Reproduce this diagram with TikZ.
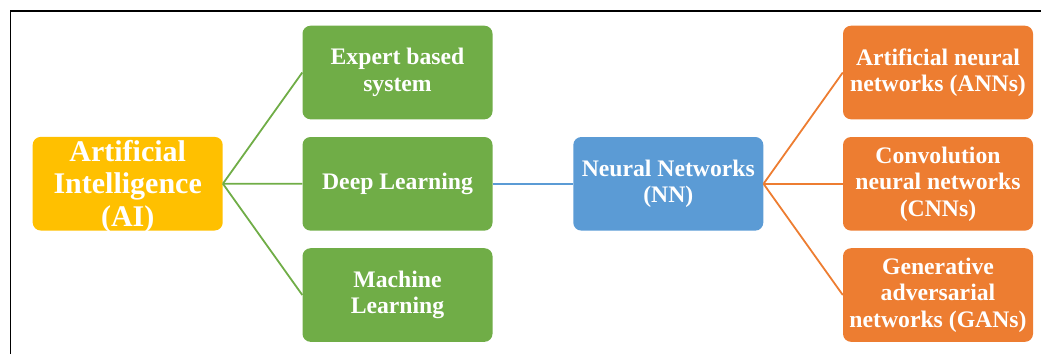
\documentclass[tikz,border=0pt]{standalone}
\usepackage{fontspec}
\setmainfont{Liberation Serif}
\definecolor{aiyellow}{HTML}{FFC000}
\definecolor{mlgreen}{HTML}{70AD47}
\definecolor{nnblue}{HTML}{5B9BD5}
\definecolor{nnorange}{HTML}{ED7D31}
\begin{document}
\begin{tikzpicture}[x=1pt,y=-1pt,
  box/.style={rounded corners=8pt, minimum width=190pt, minimum height=93.6pt,
    inner sep=2pt, text=white, align=center, font=\bfseries\fontsize{23.7}{26.5}\selectfont},
  greenbox/.style={box, fill=mlgreen},
  orangebox/.style={box, fill=nnorange},
  link/.style={line width=1.8pt}]
\useasboundingbox (0,0) rectangle (1041,354);
% outer frame (left and top edges)
\draw[line width=1.3pt] (10.5,354) -- (10.5,11) -- (1041,11);

% root box: its three-line title is a centred label, set a little low
\node[box, fill=aiyellow,
  label={[text=white, align=center, yshift=-2.5pt,
          font=\bfseries\fontsize{30}{32.5}\selectfont]center:Artificial\\Intelligence\\(AI)}]
  (ai) at (127.7,183.7) {};

\node[greenbox] (exp) at (397.5,72.5) {Expert based\\system};
\node[greenbox] (dl)  at (397.5,183.8) {Deep Learning};
\node[greenbox] (ml)  at (397.5,295) {Machine\\Learning};

\node[box, fill=nnblue] (nn) at (668.3,183.8) {Neural Networks\\(NN)};

\node[orangebox] (ann) at (938,72.5) {Artificial neural\\networks (ANNs)};
\node[orangebox] (cnn) at (938,183.8) {Convolution\\neural networks\\(CNNs)};
\node[orangebox] (gan) at (938,295) {Generative\\adversarial\\networks (GANs)};

\begin{scope}[link, draw=mlgreen]
  \draw (ai.east) -- (exp.west);
  \draw (ai.east) -- (dl.west);
  \draw (ai.east) -- (ml.west);
\end{scope}
\draw[link, draw=nnblue] (dl.east) -- (nn.west);
\begin{scope}[link, draw=nnorange]
  \draw (nn.east) -- (ann.west);
  \draw (nn.east) -- (cnn.west);
  \draw (nn.east) -- (gan.west);
\end{scope}
\end{tikzpicture}
\end{document}
